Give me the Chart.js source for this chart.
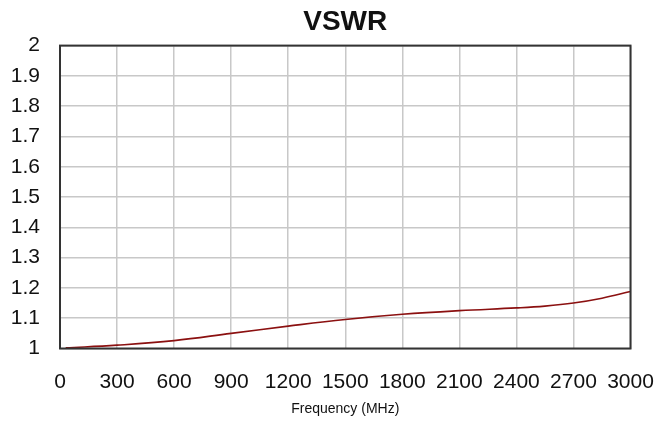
<!DOCTYPE html>
<html>
<head>
<meta charset="utf-8">
<script src="https://cdn.jsdelivr.net/npm/chart.js@4"></script>
<style>
  html, body { margin: 0; padding: 0; background: #fff; }
  #wrap { width: 654px; height: 421px; }
</style>
</head>
<body>
<div id="wrap"><canvas id="vswrChart" width="654" height="421"></canvas></div>
<script>
// VSWR readings taken off the reference curve
const freqMHz = [30, 300, 600, 900, 1200, 1500, 1800, 2100, 2400, 2550, 2700, 2850, 3000];
const vswr = [1.002, 1.011, 1.026, 1.050, 1.074, 1.096, 1.113, 1.125, 1.134, 1.140, 1.150, 1.166, 1.188];
const xTicks = [0, 300, 600, 900, 1200, 1500, 1800, 2100, 2400, 2700, 3000];
const yTicks = [1, 1.1, 1.2, 1.3, 1.4, 1.5, 1.6, 1.7, 1.8, 1.9, 2];

const FONT = "'Liberation Sans', Arial, sans-serif";

// frame round the plot area
const frame = {
  id: "frame",
  afterDraw(chart) {
    const { ctx, chartArea: a } = chart;
    ctx.save();
    ctx.strokeStyle = "#333";
    ctx.lineWidth = 2;
    ctx.strokeRect(a.left, a.top, a.right - a.left, a.bottom - a.top);
    ctx.restore();
  },
};

document.addEventListener("DOMContentLoaded", () => {
  const ctx = document.getElementById("vswrChart").getContext("2d");
  new Chart(ctx, {
    type: "line",
    data: {
      datasets: [
        {
          label: "VSWR",
          data: freqMHz.map((f, i) => ({ x: f, y: vswr[i] })),
          borderColor: "#8b1010",
          borderWidth: 1.6,
          pointRadius: 0,
          tension: 0.4,
          fill: false,
        },
      ],
    },
    options: {
      responsive: false,
      animation: false,
      layout: { padding: 0 },
      plugins: {
        legend: { display: false },
        tooltip: { enabled: false },
        title: {
          display: true,
          fullSize: false,
          text: "VSWR",
          color: "#111",
          font: { family: FONT, size: 28, weight: "bold" },
          padding: { top: 5, bottom: 7 },
        },
      },
      scales: {
        x: {
          type: "linear",
          min: 0,
          max: 3000,
          afterBuildTicks: (s) => { s.ticks = xTicks.map((v) => ({ value: v })); },
          afterFit: (s) => {
            s.height = 72.5;
            s.paddingLeft = 0;
            s.paddingRight = 23.5;
          },
          ticks: {
            color: "#111",
            font: { family: FONT, size: 21 },
            padding: 21,
            maxRotation: 0,
            autoSkip: false,
            callback: (v) => String(v),
          },
          grid: { color: "#c8c8c8", lineWidth: 1.5, drawTicks: false },
          border: { display: false },
          title: {
            display: true,
            text: "Frequency (MHz)",
            color: "#111",
            font: { family: FONT, size: 14 },
            padding: { top: 8, bottom: 3 },
          },
        },
        y: {
          type: "linear",
          min: 1,
          max: 2,
          afterBuildTicks: (s) => { s.ticks = yTicks.map((v) => ({ value: v })); },
          afterFit: (s) => { s.width = 60; },
          ticks: {
            color: "#111",
            font: { family: FONT, size: 21 },
            padding: 20,
            autoSkip: false,
            callback: (v) => String(+v.toFixed(1)),
          },
          grid: { color: "#c8c8c8", lineWidth: 1.5, drawTicks: false },
          border: { display: false },
        },
      },
    },
    plugins: [frame],
  });
});
</script>
</body>
</html>
